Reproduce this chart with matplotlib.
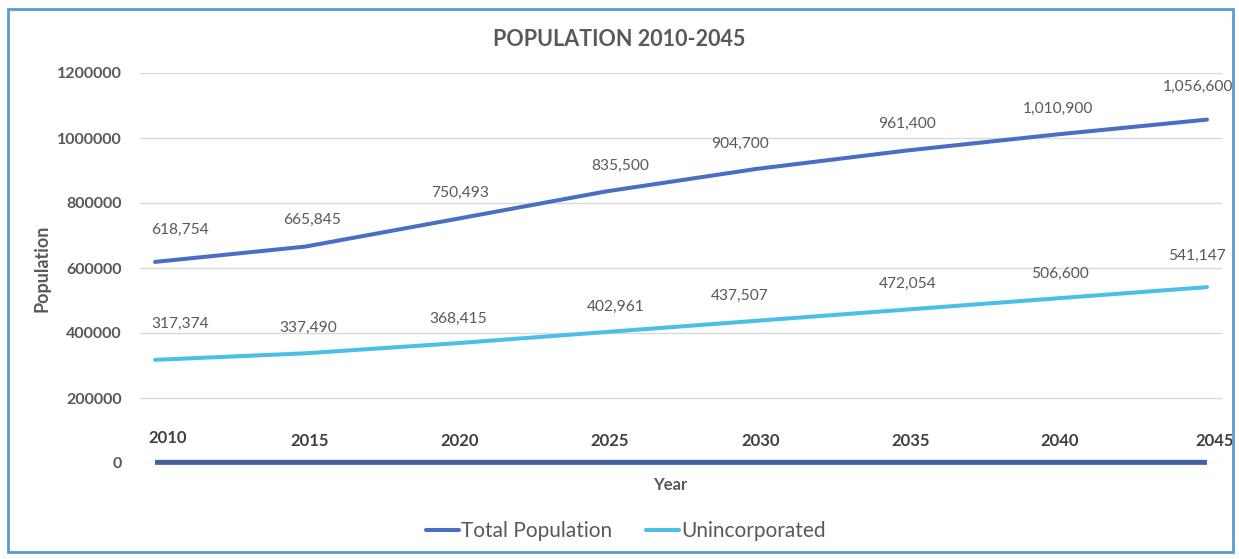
import matplotlib.pyplot as plt
from matplotlib.patches import Rectangle

plt.rcParams['font.family'] = ['Lato', 'DejaVu Sans']

years = [2010, 2015, 2020, 2025, 2030, 2035, 2040, 2045]
total_pop = [618754, 665845, 750493, 835500, 904700, 961400, 1010900, 1056600]
unincorporated = [317374, 337490, 368415, 402961, 437507, 472054, 506600, 541147]

grey = "#595959"

fig = plt.figure(figsize=(12.39, 5.59), dpi=100)
ax = fig.add_axes([140 / 1239, 1 - 463 / 559, 1082 / 1239, 390 / 559])

# frame around the whole chart
fig.patches.append(Rectangle((8 / 1239, 7 / 559), 1225 / 1239, 543 / 559,
                             transform=fig.transFigure, fill=False,
                             edgecolor="#5b9bd5", linewidth=2))

ax.plot(years, total_pop, color="#4a6ec4", lw=2.9, label="Total Population",
        solid_capstyle="round")
ax.plot(years, unincorporated, color="#4cbfe6", lw=2.9, label="Unincorporated",
        solid_capstyle="round")
# the Year column was plotted as a series too, so it sits on zero
ax.plot(years, years, color="#42609e", lw=3.6, solid_capstyle="butt", clip_on=False, zorder=3)

ax.set_xlim(2009.5, 2045.5)
ax.set_ylim(0, 1200000)
ax.set_yticks(range(0, 1200001, 200000))
ax.set_yticklabels([str(v) for v in range(0, 1200001, 200000)])
ax.set_xticks([])
ax.grid(axis="y", color="#d9d9d9", lw=1)
ax.set_axisbelow(True)
for s in ax.spines.values():
    s.set_visible(False)
ax.tick_params(axis="y", length=0, pad=13, labelsize=11.5, labelcolor=grey)
for t in ax.get_yticklabels():
    t.set_fontweight("bold")

ax.set_ylabel("Population", fontsize=13, color=grey, fontweight="bold")
ax.yaxis.set_label_coords(-0.083, 0.5)
fig.text(0.5, 1 - 40 / 559, "POPULATION 2010-2045", ha="center", va="center",
         fontsize=15.5, color=grey, fontweight="bold")
ax.text(0.49, -0.035, "Year", transform=ax.transAxes, ha="center", va="top",
        fontsize=12, color=grey, fontweight="bold")

tp_dx = [25, 7, 4, 14, -16, 1, 1, -9]
tp_dy = [28, 22, 22, 21, 21, 22, 21, 28]
for i in range(len(years)):
    ax.annotate(f"{total_pop[i]:,}", (years[i], total_pop[i]),
                xytext=(tp_dx[i] * 0.72, tp_dy[i] * 0.72 - 2), textcoords="offset points",
                ha="center", va="bottom", fontsize=11.2, color=grey)

un_dx = [25, 3, 3, 10, -16, 1, 3, -10]
un_dy = [32, 21, 20, 21, 21, 21, 20, 27]
for i in range(len(years)):
    ax.annotate(f"{unincorporated[i]:,}", (years[i], unincorporated[i]),
                xytext=(un_dx[i] * 0.72, un_dy[i] * 0.72 - 2), textcoords="offset points",
                ha="center", va="bottom", fontsize=11.2, color=grey)

yr_dx = [13, 4, 4, 4, 4, 4, 3, 8]
yr_dy = [20, 17, 17, 17, 17, 17, 17, 17]
for i in range(len(years)):
    ax.annotate(str(years[i]), (years[i], 0),
                xytext=(yr_dx[i] * 0.72, yr_dy[i] * 0.72 - 2), textcoords="offset points",
                ha="center", va="bottom", fontsize=12, color="#404040", fontweight="bold")

ax.legend(loc="center", bbox_to_anchor=(0.505, 1 - 531 / 559), bbox_transform=fig.transFigure,
          ncol=2, frameon=False, fontsize=15, labelcolor=grey, handlelength=1.6,
          handletextpad=0.1, columnspacing=1.6)

fig.savefig("out.png", dpi=100)
